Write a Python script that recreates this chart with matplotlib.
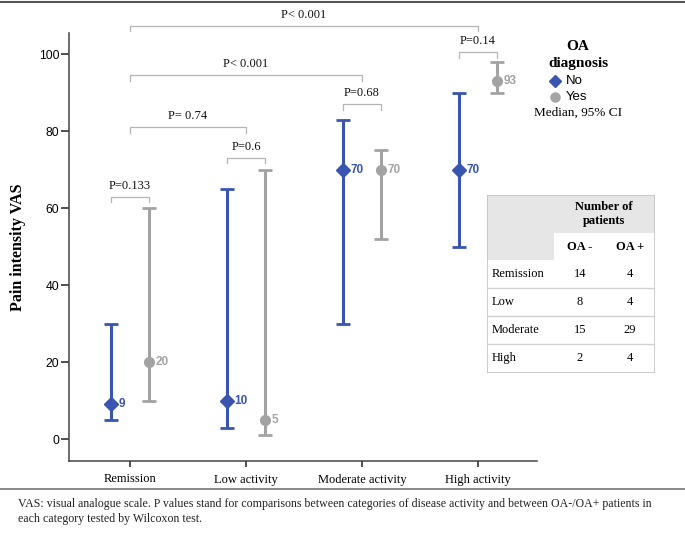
import numpy as np
import matplotlib.pyplot as plt
from matplotlib.lines import Line2D
from matplotlib.patches import Rectangle

categories = ["Remission", "Low activity", "Moderate activity", "High activity"]
median_no = [9, 10, 70, 70]
low_no = [5, 3, 30, 50]
high_no = [30, 65, 83, 90]
median_yes = [20, 5, 70, 93]
low_yes = [10, 1, 52, 90]
high_yes = [60, 70, 75, 98]

# P values: OA-/OA+ within category, and Remission vs other categories
pair_p = ["P=0.133", "P=0.6", "P=0.68", "P=0.14"]
pair_h = [63, 73, 87, 100.5]
group_p = ["P= 0.74", "P< 0.001", "P< 0.001"]
group_end = [1, 2, 3]
group_h = [81, 94.5, 107.3]

table_rows = ["Remission", "Low", "Moderate", "High"]
n_oa_neg = [14, 8, 15, 2]
n_oa_pos = [4, 4, 29, 4]

W, H = 685, 541
BLUE = "#3a55b0"
GREY = "#a3a3a3"
SERIF = "Liberation Serif"
SANS = "Liberation Sans"


def px_axes(fig, x0, y0, x1, y1):
    return fig.add_axes([x0 / W, 1 - y1 / H, (x1 - x0) / W, (y1 - y0) / H])


fig = plt.figure(figsize=(W / 100, H / 100), dpi=100)
ax = px_axes(fig, 69, 33, 537, 461)

x = np.arange(len(categories))
off = 0.16
for xs, med, lo, hi, col, mk in [
    (x - off, median_no, low_no, high_no, BLUE, "D"),
    (x + off, median_yes, low_yes, high_yes, GREY, "o"),
]:
    med = np.array(med)
    yerr = [med - np.array(lo), np.array(hi) - med]
    ax.errorbar(xs, med, yerr=yerr, fmt=mk, color=col, ms=7, elinewidth=2.2,
                capsize=5, capthick=2, zorder=3)
    for xi, m in zip(xs, med):
        ax.text(xi + 0.06, m, f"{m:.0f}", color=col, fontsize=8.5, fontweight="bold",
                family=SANS, va="center", ha="left")


def bracket(x0, x1, h, label):
    ax.plot([x0, x0, x1, x1], [h - 1.4, h, h, h - 1.4], color="#b5b5b5", lw=0.9,
            clip_on=False)
    ax.text((x0 + x1) / 2, h + 1.3, label, ha="center", va="bottom", fontsize=9,
            family=SERIF, color="#111111", clip_on=False)


for i, (lab, h) in enumerate(zip(pair_p, pair_h)):
    bracket(x[i] - off, x[i] + off, h, lab)
for end, lab, h in zip(group_end, group_p, group_h):
    bracket(x[0], x[end], h, lab)

ax.set_xlim(-0.526, 3.509)
ax.set_ylim(-5.7, 105.5)
ax.set_yticks([0, 20, 40, 60, 80, 100])
ax.set_xticks(x)
ax.set_xticklabels(categories, family=SERIF, fontsize=9)
for t in ax.get_yticklabels():
    t.set_family(SANS)
    t.set_fontsize(8.8)
ax.tick_params(axis="y", length=5.5, width=1.2, color="#333333", pad=1.5)
ax.tick_params(axis="x", length=4.5, width=1.2, color="#333333", pad=4.5)
for s in ["top", "right"]:
    ax.spines[s].set_visible(False)
for s in ["left", "bottom"]:
    ax.spines[s].set_color("#444444")
    ax.spines[s].set_linewidth(1.1)
ax.set_ylabel("Pain intensity VAS", family=SERIF, fontweight="bold", fontsize=11.5,
              labelpad=9)
ax.patch.set_alpha(0)

# legend
fig.text(578 / W, 1 - 46 / H, "OA", ha="center", va="center", family=SERIF,
         fontweight="bold", fontsize=11)
fig.text(578 / W, 1 - 64 / H, "diagnosis", ha="center", va="center", family=SERIF,
         fontweight="bold", fontsize=11)
fig.add_artist(Line2D([555 / W], [1 - 81 / H], marker="D", color=BLUE, ms=6.5))
fig.text(566 / W, 1 - 81 / H, "No", va="center", family=SANS, fontsize=9.5)
fig.add_artist(Line2D([555 / W], [1 - 97 / H], marker="o", color=GREY, ms=6.5))
fig.text(566 / W, 1 - 97 / H, "Yes", va="center", family=SANS, fontsize=9.5)
fig.text(578 / W, 1 - 113 / H, "Median, 95% CI", ha="center", va="center",
         family=SERIF, fontsize=9.5)

# table of patient counts
tx = px_axes(fig, 487, 195, 655, 373)
tx.set_xlim(487, 655)
tx.set_ylim(373, 195)
tx.axis("off")
hdr = "#e6e6e6"
tx.add_patch(Rectangle((487, 195), 168, 38, color=hdr, lw=0))
tx.add_patch(Rectangle((487, 195), 67, 65, color=hdr, lw=0))
row_y = [260, 288, 316, 344, 373]
for y in row_y[1:-1]:
    tx.plot([487, 655], [y, y], color="#d0d0d0", lw=1)
tx.add_patch(Rectangle((487, 195), 168, 178, fill=False, ec="#c3c3c3", lw=1.2))
tx.text(604, 214, "Number of\npatients", ha="center", va="center", family=SERIF,
        fontweight="bold", fontsize=9, linespacing=1.15)
tx.text(580, 247, "OA -", ha="center", va="center", family=SERIF, fontweight="bold",
        fontsize=9)
tx.text(630, 247, "OA +", ha="center", va="center", family=SERIF, fontweight="bold",
        fontsize=9)
for i, (name, a, b) in enumerate(zip(table_rows, n_oa_neg, n_oa_pos)):
    yc = (row_y[i] + row_y[i + 1]) / 2
    tx.text(492, yc, name, va="center", family=SERIF, fontsize=9)
    tx.text(580, yc, str(a), ha="center", va="center", family=SERIF, fontsize=9)
    tx.text(630, yc, str(b), ha="center", va="center", family=SERIF, fontsize=9)

# rules and caption
fig.add_artist(Line2D([0, 1], [1 - 2 / H] * 2, color="#555555", lw=1.5))
fig.add_artist(Line2D([0, 1], [1 - 489 / H] * 2, color="#777777", lw=1.2))
fig.text(18 / W, 1 - 498 / H,
         "VAS: visual analogue scale. P values stand for comparisons between categories "
         "of disease activity and between OA-/OA+ patients in\n"
         "each category tested by Wilcoxon test.",
         va="top", ha="left", family=SERIF, fontsize=8.6, color="#222222",
         linespacing=1.35)

fig.savefig("out.png", dpi=100)
